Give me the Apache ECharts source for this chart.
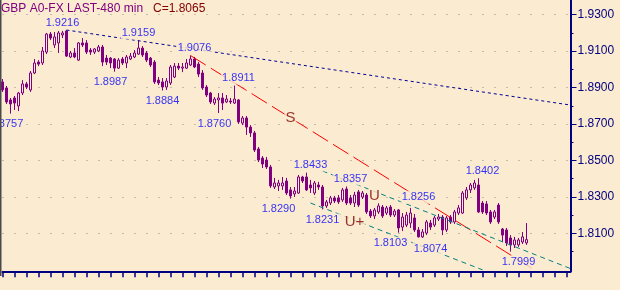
<!DOCTYPE html>
<html><head><meta charset="utf-8">
<script src="https://cdn.jsdelivr.net/npm/echarts@6/dist/echarts.min.js"></script>
<style>html,body{margin:0;padding:0;background:#FBEBD0;}#c{width:620px;height:290px;}</style>
</head><body><div id="c"></div>
<script>
const titleText = 'GBP A0-FX LAST-480 min';
const lastText = 'C=1.8065';
const barCount = 143;
const categories = Array.from({length: barCount}, (_, i) => String(i));

const opens = [1.8931,1.8898,1.8832,1.8843,1.8799,1.8870,1.8920,1.8887,1.8980,1.9040,
1.9035,1.9095,1.9194,1.9134,1.9145,1.9189,1.9211,1.9068,1.9090,1.9051,
1.9145,1.9145,1.9106,1.9095,1.9101,1.9123,1.9062,1.9062,1.9057,1.9007,
1.9057,1.9035,1.9057,1.9068,1.9084,1.9117,1.9090,1.9062,1.9040,1.8941,
1.8931,1.8903,1.8925,1.8958,1.9018,1.9007,1.9007,1.9024,1.9057,1.9029,
1.8980,1.8903,1.8870,1.8815,1.8832,1.8843,1.8821,1.8826,1.8815,1.8832,
1.8705,1.8733,1.8683,1.8651,1.8563,1.8513,1.8502,1.8464,1.8354,1.8360,
1.8360,1.8387,1.8338,1.8316,1.8321,1.8409,1.8409,1.8365,1.8321,1.8365,
1.8354,1.8250,1.8266,1.8294,1.8294,1.8283,1.8343,1.8294,1.8266,1.8327,
1.8299,1.8310,1.8222,1.8195,1.8217,1.8244,1.8211,1.8244,1.8200,1.8228,
1.8134,1.8145,1.8156,1.8184,1.8118,1.8080,1.8101,1.8156,1.8145,1.8178,
1.8189,1.8118,1.8189,1.8162,1.8211,1.8211,1.8294,1.8338,1.8349,1.8365,
1.8266,1.8261,1.8217,1.8189,1.8255,1.8123,1.8118,1.8074,1.8036,1.8036,
1.8052,1.8047];
const closes = [1.8887,1.8821,1.8810,1.8815,1.8870,1.8920,1.8903,1.8980,1.9035,1.9029,
1.9101,1.9194,1.9172,1.9178,1.9200,1.9200,1.9073,1.9090,1.9068,1.9145,
1.9134,1.9095,1.9095,1.9112,1.9123,1.9040,1.9040,1.9035,1.9007,1.9051,
1.9035,1.9068,1.9073,1.9090,1.9117,1.9079,1.9051,1.9024,1.8931,1.8925,
1.8903,1.8936,1.9013,1.9018,1.9007,1.9013,1.9035,1.9057,1.9013,1.8974,
1.8898,1.8859,1.8821,1.8837,1.8843,1.8815,1.8837,1.8821,1.8837,1.8711,
1.8733,1.8683,1.8651,1.8557,1.8502,1.8480,1.8464,1.8360,1.8376,1.8376,
1.8376,1.8321,1.8305,1.8332,1.8409,1.8387,1.8338,1.8349,1.8376,1.8354,
1.8250,1.8272,1.8294,1.8277,1.8272,1.8338,1.8266,1.8266,1.8310,1.8255,
1.8321,1.8217,1.8195,1.8228,1.8250,1.8195,1.8239,1.8200,1.8222,1.8129,
1.8189,1.8200,1.8211,1.8118,1.8080,1.8107,1.8162,1.8134,1.8184,1.8189,
1.8118,1.8184,1.8162,1.8217,1.8239,1.8321,1.8338,1.8365,1.8376,1.8217,
1.8217,1.8211,1.8162,1.8217,1.8162,1.8090,1.8047,1.8036,1.8063,1.8063,
1.8080,1.8065];
const lows = [1.8876,1.8810,1.8757,1.8777,1.8771,1.8859,1.8892,1.8876,1.8974,1.9018,
1.9024,1.9084,1.9161,1.9117,1.9090,1.9172,1.9068,1.9062,1.9062,1.9046,
1.9123,1.9084,1.9079,1.9084,1.9095,1.9018,1.9024,1.9007,1.8987,1.9002,
1.9024,1.9007,1.9051,1.9062,1.9079,1.9068,1.9040,1.9013,1.8920,1.8914,
1.8884,1.8887,1.8914,1.8952,1.8996,1.8985,1.9002,1.9018,1.9007,1.8958,
1.8887,1.8848,1.8810,1.8804,1.8760,1.8777,1.8815,1.8810,1.8810,1.8700,
1.8694,1.8640,1.8629,1.8546,1.8491,1.8458,1.8453,1.8349,1.8343,1.8332,
1.8338,1.8310,1.8290,1.8299,1.8316,1.8376,1.8332,1.8321,1.8310,1.8338,
1.8231,1.8239,1.8255,1.8266,1.8261,1.8272,1.8255,1.8255,1.8244,1.8244,
1.8288,1.8206,1.8184,1.8178,1.8206,1.8184,1.8200,1.8189,1.8189,1.8103,
1.8112,1.8134,1.8129,1.8107,1.8077,1.8074,1.8090,1.8118,1.8134,1.8167,
1.8090,1.8107,1.8151,1.8151,1.8200,1.8206,1.8283,1.8321,1.8338,1.8211,
1.8206,1.8200,1.8151,1.8178,1.8151,1.8052,1.8030,1.7999,1.8019,1.8025,
1.8041,1.8036];
const highs = [1.8947,1.8909,1.8843,1.8854,1.8876,1.8941,1.8931,1.8991,1.9057,1.9051,
1.9123,1.9200,1.9205,1.9205,1.9211,1.9211,1.9216,1.9101,1.9117,1.9150,
1.9172,1.9161,1.9117,1.9117,1.9134,1.9134,1.9079,1.9068,1.9062,1.9062,
1.9068,1.9079,1.9090,1.9106,1.9159,1.9128,1.9101,1.9068,1.9051,1.8958,
1.8952,1.8952,1.9024,1.9035,1.9035,1.9035,1.9057,1.9076,1.9068,1.9040,
1.8996,1.8914,1.8876,1.8848,1.8870,1.8870,1.8859,1.8843,1.8911,1.8837,
1.8744,1.8744,1.8694,1.8662,1.8574,1.8524,1.8519,1.8475,1.8404,1.8393,
1.8409,1.8404,1.8354,1.8354,1.8420,1.8415,1.8433,1.8393,1.8387,1.8382,
1.8365,1.8283,1.8305,1.8305,1.8310,1.8349,1.8357,1.8310,1.8327,1.8338,
1.8332,1.8321,1.8233,1.8239,1.8266,1.8255,1.8250,1.8255,1.8233,1.8233,
1.8211,1.8217,1.8239,1.8206,1.8134,1.8123,1.8173,1.8173,1.8195,1.8206,
1.8200,1.8195,1.8200,1.8228,1.8255,1.8332,1.8354,1.8376,1.8393,1.8402,
1.8277,1.8277,1.8228,1.8228,1.8266,1.8129,1.8129,1.8090,1.8080,1.8074,
1.8107,1.8156];

const yMin = 1.7891, yMax = 1.9381;
const yTicks = [1.81, 1.83, 1.85, 1.87, 1.89, 1.91, 1.93];
const yMinorTicks = [1.80, 1.82, 1.84, 1.86, 1.88, 1.90, 1.92];

const pivotIdx  = [15, 34, 48, 59, 27, 40, 53, 1, 77, 87, 69, 80, 104, 97, 107, 120, 129];
const pivotVal  = [1.9216, 1.9159, 1.9076, 1.8911, 1.8987, 1.8884, 1.8760, 1.8757, 1.8433, 1.8357, 1.8290, 1.8231, 1.8256, 1.8103, 1.8074, 1.8402, 1.7999];
const pivotSide = ['hi','hi','hi','hi','lo','lo','lo','lo','hi','hi','lo','lo','hi','lo','lo','hi','lo'];

const markText = ['S', 'U', 'U+'];
const markIdx  = [72, 93, 88];
const markVal  = [1.8733, 1.8305, 1.8162];

const trendBlue    = [[16, 1.9216], [142, 1.8804]];
const trendRed     = [[47, 1.9076], [133, 1.7899]];
const channelUpper = [[80, 1.8442], [142, 1.7906]];
const channelLower = [[77, 1.8266], [120, 1.7899]];

const BG = '#FBEBD0';
const PURPLE = '#800080';
const NAVY = '#000080';
const FONT = 'Arial, "Liberation Sans", sans-serif';

const candles = opens.map((o, i) => [o, closes[i], lows[i], highs[i]]);

const chart = echarts.init(document.getElementById('c'), null, {renderer: 'canvas'});
chart.setOption({
  animation: false,
  backgroundColor: BG,
  textStyle: {fontFamily: FONT},
  grid: {left: 2.5, right: 49.5, top: 0, bottom: 18.7, outerBoundsMode: 'none', containLabel: false},
  xAxis: {
    type: 'category', data: categories, boundaryGap: false,
    axisLine: {show: true, lineStyle: {color: NAVY, width: 2}},
    axisTick: {show: true, interval: 2, length: 6, lineStyle: {color: NAVY, width: 1.5}},
    axisLabel: {show: false},
    splitLine: {show: false}
  },
  yAxis: [{
    type: 'value', position: 'right', min: yMin, max: yMax,
    axisLine: {show: true, lineStyle: {color: NAVY, width: 2}},
    axisTick: {show: true, length: 6, lineStyle: {color: NAVY, width: 1}, customValues: yTicks},
    axisLabel: {show: true, color: NAVY, fontSize: 12, fontFamily: FONT, margin: 7,
      customValues: yTicks, formatter: v => Number(v).toFixed(4)},
    splitLine: {show: true, lineStyle: {color: '#8c8c8c', width: 1, type: [1, 11]}}
  }, {
    type: 'value', position: 'right', min: yMin, max: yMax,
    axisLine: {show: false},
    axisTick: {show: true, length: 3, lineStyle: {color: NAVY, width: 1}, customValues: yMinorTicks},
    axisLabel: {show: false},
    splitLine: {show: false}
  }],
  series: [
    {
      type: 'candlestick', data: candles, barWidth: 2, clip: false, z: 2,
      itemStyle: {color: BG, color0: PURPLE, borderColor: PURPLE, borderColor0: PURPLE, borderColorDoji: PURPLE, borderWidth: 1},
      emphasis: {disabled: true}, silent: true
    },
    {type: 'line', data: trendBlue, symbol: 'none', silent: true, z: 3,
      lineStyle: {color: '#000099', width: 1, type: [3, 3]}},
    {type: 'line', data: trendRed, symbol: 'none', silent: true, z: 3,
      lineStyle: {color: '#FF0000', width: 1, type: [18, 6]}},
    {type: 'line', data: channelUpper, symbol: 'none', silent: true, z: 3,
      lineStyle: {color: '#008080', width: 1, type: [5, 4]}},
    {type: 'line', data: channelLower, symbol: 'none', silent: true, z: 3,
      lineStyle: {color: '#008080', width: 1, type: [5, 4]}},
    {
      type: 'scatter', symbolSize: 0, silent: true, z: 5,
      data: pivotIdx.map((ix, k) => ({
        value: [ix, pivotVal[k]],
        label: {position: pivotSide[k] === 'hi' ? 'top' : 'bottom', distance: pivotSide[k] === 'hi' ? 1 : 4}
      })),
      label: {show: true, formatter: p => p.value[1].toFixed(4), color: '#0000FF', fontSize: 11,
        fontFamily: FONT, backgroundColor: BG, padding: [1, 1]}
    },
    {
      type: 'scatter', symbolSize: 0, silent: true, z: 5,
      data: markIdx.map((ix, k) => ({value: [ix, markVal[k]], name: markText[k]})),
      label: {show: true, position: 'inside', formatter: p => p.name, color: '#800000', fontSize: 15,
        fontFamily: FONT, backgroundColor: BG, padding: [0, 1]}
    }
  ],
  graphic: [
    {type: 'text', left: 1, top: 3, z: 10, style: {text: titleText, fill: PURPLE, font: '12px ' + FONT}},
    {type: 'text', left: 153, top: 3, z: 10, style: {text: lastText, fill: '#800000', font: '12px ' + FONT}},
    {type: 'rect', z: 10, shape: {x: 0, y: 0, width: 1.5, height: 276}, style: {fill: '#4a4a4a'}}
  ]
});
</script></body></html>
